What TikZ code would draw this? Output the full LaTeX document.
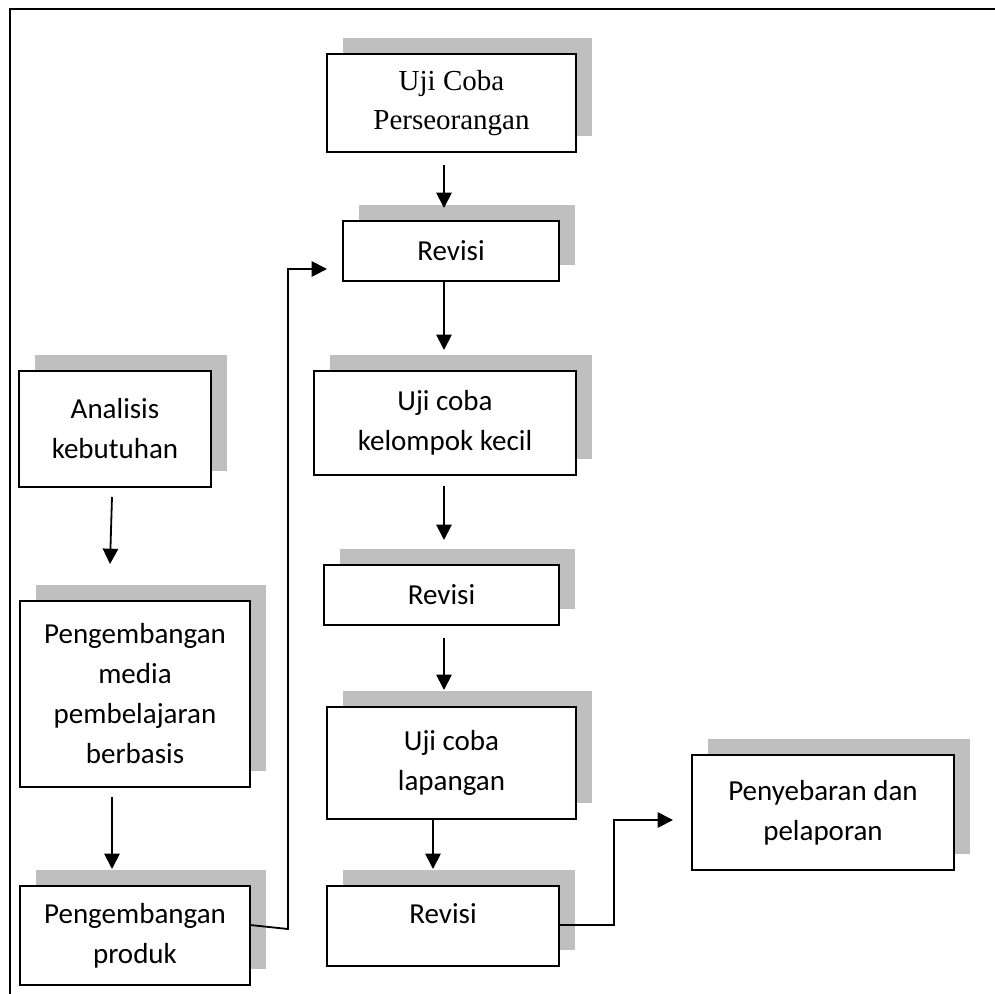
\documentclass[tikz,border=0pt]{standalone}
\usepackage{fontspec}
\setmainfont{Carlito}
\newfontfamily\serifface{Liberation Serif}
\usetikzlibrary{arrows.meta,shadows,calc}
\definecolor{shadowgray}{RGB}{191,191,191}
\begin{document}
\begin{tikzpicture}[x=0.75pt,y=-0.75pt,
  box/.style={draw, line width=1.1pt, fill=white, inner sep=0pt, outer sep=0pt,
    align=center, font=\fontsize{21.75}{30}\selectfont,
    general shadow={fill=shadowgray, shadow xshift=12pt, shadow yshift=12pt}},
  serifbox/.style={box, font=\serifface\fontsize{21.75}{29}\selectfont},
  arr/.style={line width=1.35pt, -{Triangle[length=11.5pt,width=11.5pt]}},
  frame/.style={line width=1.5pt}]
\useasboundingbox (0,0) rectangle (995,994);

% outer frame (top and left edges only)
\draw[frame] (995,9) -- (9.5,9) -- (9.5,994);

% middle column
\node[serifbox, minimum width=186.75pt, minimum height=73.5pt] (ucp) at (451.5,103) {Uji Coba\\Perseorangan};
\node[box, minimum width=162pt, minimum height=45pt] (rev1) at (451,251) {Revisi};
\node[box, minimum width=196.5pt, minimum height=78pt] (uck) at (445,423) {Uji coba\\kelompok kecil};
\node[box, minimum width=176.25pt, minimum height=45pt] (rev2) at (441.5,595) {Revisi};
\node[box, minimum width=186.75pt, minimum height=84pt] (ucl) at (451.5,763) {Uji coba\\lapangan};
\node[box, minimum width=174pt, minimum height=60pt, text depth=18pt] (rev3) at (443,926) {Revisi};

% right box
\node[box, minimum width=196.5pt, minimum height=86.25pt] (pen) at (823,812.5) {Penyebaran dan\\pelaporan};

% left column
\node[box, minimum width=144pt, minimum height=87pt] (ana) at (115,429) {Analisis\\kebutuhan};
\node[box, minimum width=172.5pt, minimum height=139.5pt] (pmed) at (135,694) {Pengembangan\\media\\pembelajaran\\berbasis};
\node[box, minimum width=172.5pt, minimum height=74.25pt] (pprod) at (135,935.5) {Pengembangan\\produk};

% vertical arrows, middle column
\coordinate (axis) at (444,0);
\coordinate (axislow) at (433,0);
\draw[arr, shorten <=9.75pt, shorten >=9.75pt] (ucp.south -| axis) -- (rev1.north -| axis);
\draw[arr, shorten >=15.75pt] (rev1.south -| axis) -- (uck.north -| axis);
\draw[arr, shorten <=8.25pt, shorten >=18.75pt] (uck.south -| axis) -- (rev2.north -| axis);
\draw[arr, shorten <=9.75pt, shorten >=12.75pt] (rev2.south -| axis) -- (ucl.north -| axis);
\draw[arr, shorten >=12.75pt] (ucl.south -| axislow) -- (rev3.north -| axislow);

% vertical arrows, left column
\draw[arr] ($(ana.south)+(-3,10)$) -- ($(pmed.north)+(-25,-37)$);
\draw[arr] ($(pmed.south)+(-23,10)$) -- ($(pprod.north)+(-23,-17)$);

% elbow connectors
\draw[arr] ($(pprod.east)+(0,-10.5)$) -- ++(38,4) |- ($(rev1.west)+(-16,18)$);
\draw[arr] ($(rev3.east)+(0,-1)$) -- ++(55,0) |- ($(pen.west)+(-19,7.5)$);
\end{tikzpicture}
\end{document}
